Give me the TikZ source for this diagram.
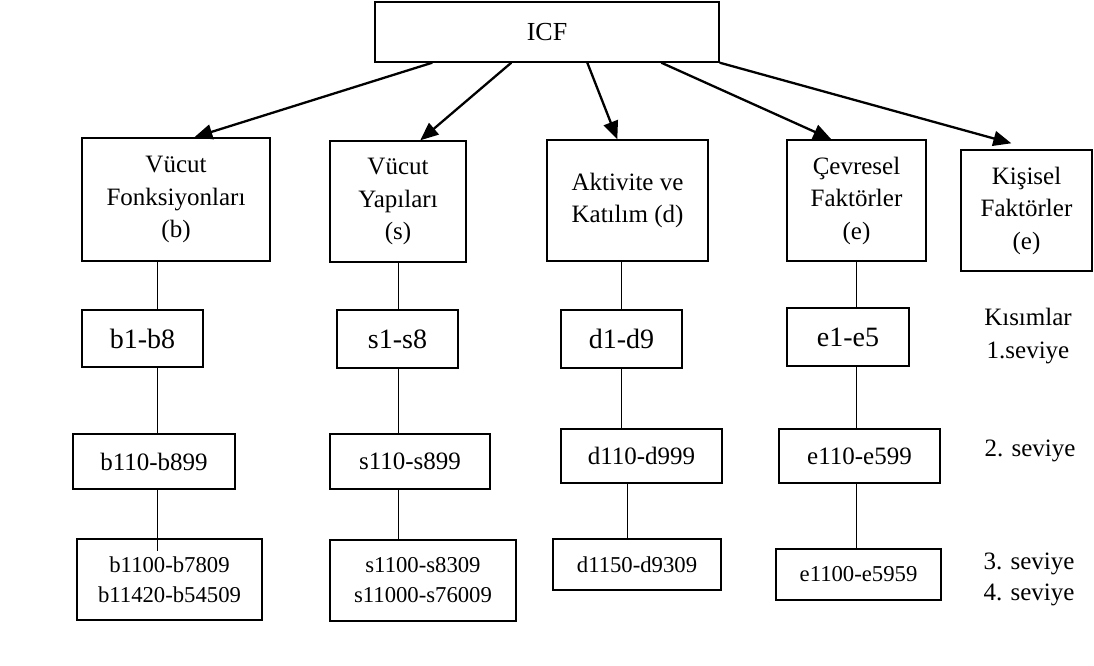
\documentclass[tikz,border=0pt]{standalone}
\usepackage{fontspec}
\setmainfont{Liberation Serif}
\usetikzlibrary{arrows.meta}
\begin{document}
\begin{tikzpicture}[x=1pt,y=-1pt,
  box/.style={draw, line width=1.4pt, inner sep=0pt, align=center},
  lab/.style={font=\fontsize{25}{32.5}\selectfont},
  lvone/.style={font=\fontsize{28}{32}\selectfont},
  lvtwo/.style={font=\fontsize{25}{30}\selectfont},
  lvthree/.style={font=\fontsize{22.7}{30}\selectfont},
  arr/.style={line width=2.3pt, -{Triangle[length=18pt,width=15pt]}},
  conn/.style={line width=0.9pt},
  side/.style={anchor=base, inner sep=0pt, font=\fontsize{25}{30}\selectfont}]
\useasboundingbox (0,0) rectangle (1094,666);

% top
\node[box, font=\fontsize{26}{30}\selectfont, minimum width=344pt, minimum height=60pt] (icf) at (547,32) {ICF};

% level 0
\node[box, lab, minimum width=188pt, minimum height=123pt] (vf) at (176,199.5) {\raisebox{-2pt}{\parbox{188pt}{\centering Vücut\\Fonksiyonları\\(b)}}};
\node[box, lab, minimum width=136pt, minimum height=121pt] (vy) at (398,201.5) {\raisebox{-2pt}{\parbox{136pt}{\centering Vücut\\Yapıları\\(s)}}};
\node[box, lab, minimum width=161pt, minimum height=121pt] (ak) at (627.5,200.5) {\raisebox{-2pt}{\parbox{161pt}{\centering Aktivite ve\\Katılım (d)}}};
\node[box, lab, minimum width=139pt, minimum height=121pt] (ce) at (856.5,200.5) {\raisebox{-2pt}{\parbox{139pt}{\centering Çevresel\\Faktörler\\(e)}}};
\node[box, lab, minimum width=131pt, minimum height=121pt] (ki) at (1026.5,210.5) {\raisebox{-2pt}{\parbox{131pt}{\centering Kişisel\\Faktörler\\(e)}}};

% level 1
\node[box, lvone, minimum width=121pt, minimum height=57pt] (b1) at (142.5,338.5) {\raisebox{-3pt}{b1-b8}};
\node[box, lvone, minimum width=121pt, minimum height=58pt] (s1) at (397.5,339) {\raisebox{-3pt}{s1-s8}};
\node[box, lvone, minimum width=121pt, minimum height=58pt] (d1) at (621.5,339) {\raisebox{-3pt}{d1-d9}};
\node[box, lvone, minimum width=122pt, minimum height=58pt] (e1) at (848,337) {\raisebox{-3pt}{e1-e5}};

% level 2
\node[box, lvtwo, minimum width=162pt, minimum height=55pt] (b2) at (154,461.5) {b110-b899};
\node[box, lvtwo, minimum width=160pt, minimum height=55pt] (s2) at (410,461.5) {s110-s899};
\node[box, lvtwo, minimum width=161pt, minimum height=54pt] (d2) at (641.5,456) {d110-d999};
\node[box, lvtwo, minimum width=161pt, minimum height=54pt] (e2) at (859.5,456) {e110-e599};

% level 3
\node[box, lvthree, minimum width=185pt, minimum height=81pt] (b3) at (169.5,579.5) {b1100-b7809\\b11420-b54509};
\node[box, lvthree, minimum width=186pt, minimum height=81pt] (s3) at (423,580.5) {s1100-s8309\\s11000-s76009};
\node[box, lvthree, minimum width=168pt, minimum height=51pt] (d3) at (637,564.5) {d1150-d9309};
\node[box, lvthree, minimum width=165pt, minimum height=51pt] (e3) at (858.5,574.5) {e1100-e5959};

% side labels
\node[side] (k0) at (1028,325) {Kısımlar};
\node[side] (k1) at (1028,358) {1.seviye};
\node[side] (k2) at (1030,456) {2. seviye};
\node[side] (k3) at (1029,569) {3. seviye};
\node[side] (k4) at (1029,600) {4. seviye};

% arrows
\draw[arr] ([xshift=58pt]icf.south west) -- ([xshift=113pt]vf.north west);
\draw[arr] ([xshift=137pt]icf.south west) -- ([xshift=91pt]vy.north west);
\draw[arr] ([xshift=213pt]icf.south west) -- ([xshift=71pt]ak.north west);
\draw[arr] ([xshift=287pt]icf.south west) -- ([xshift=45pt]ce.north west);
\draw[arr] (icf.south east) -- ([xshift=51pt,yshift=6pt]ki.north west);

% connectors
\coordinate (bx) at (157,0);
\coordinate (sx) at (398,0);
\coordinate (dx) at (621,0);
\coordinate (dxx) at (627,0);
\coordinate (ex) at (856,0);
\draw[conn] (vf.south -| bx) -- (b1.north -| bx);
\draw[conn] (b1.south -| bx) -- (b2.north -| bx);
\draw[conn] (b2.south -| bx) -- ++(0,61);
\draw[conn] (vy.south -| sx) -- (s1.north -| sx);
\draw[conn] (s1.south -| sx) -- (s2.north -| sx);
\draw[conn] (s2.south -| sx) -- (s3.north -| sx);
\draw[conn] (ak.south -| dx) -- (d1.north -| dx);
\draw[conn] (d1.south -| dx) -- (d2.north -| dx);
\draw[conn] (d2.south -| dxx) -- (d3.north -| dxx);
\draw[conn] (ce.south -| ex) -- (e1.north -| ex);
\draw[conn] (e1.south -| ex) -- (e2.north -| ex);
\draw[conn] (e2.south -| ex) -- (e3.north -| ex);
\end{tikzpicture}
\end{document}
